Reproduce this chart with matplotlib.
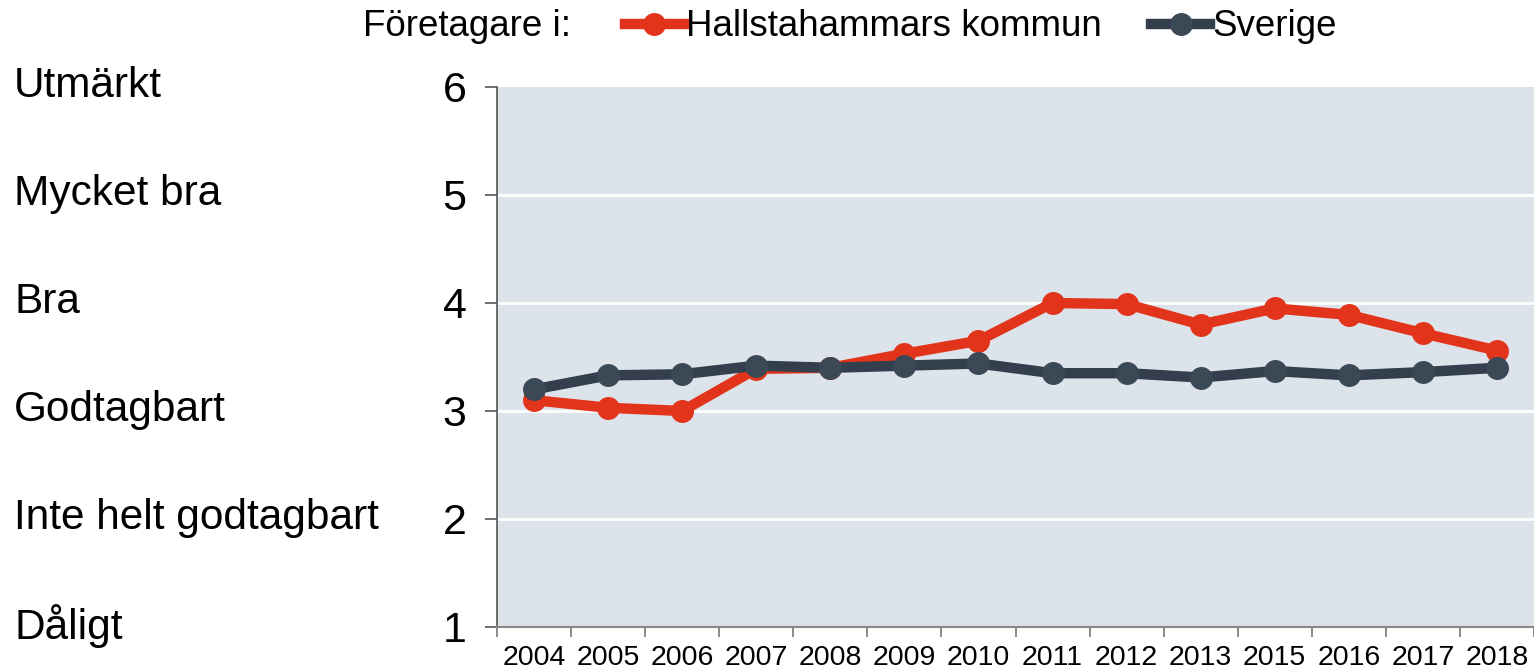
import numpy as np
import matplotlib
matplotlib.use("Agg")
import matplotlib.pyplot as plt
import matplotlib.transforms as mtransforms

plt.rcParams['font.family'] = ['Liberation Sans', 'DejaVu Sans']

# data
years = ['2004', '2005', '2006', '2007', '2008', '2009', '2010',
         '2011', '2012', '2013', '2015', '2016', '2017', '2018']
hallstahammar = [3.10, 3.03, 3.00, 3.39, 3.40, 3.53, 3.65,
                 4.00, 3.99, 3.80, 3.95, 3.89, 3.72, 3.56]
sverige = [3.20, 3.33, 3.34, 3.42, 3.40, 3.42, 3.44,
           3.35, 3.35, 3.31, 3.37, 3.33, 3.36, 3.40]
scale_labels = ['Dåligt', 'Inte helt godtagbart', 'Godtagbart',
                'Bra', 'Mycket bra', 'Utmärkt']
yticks = [1, 2, 3, 4, 5, 6]

red = '#e2341a'
dark = '#333f4c'
dark_marker = '#3b4956'

W, H = 1534, 671
fig = plt.figure(figsize=(W / 100, H / 100), dpi=100)
ax = fig.add_axes([497 / W, 1 - 627 / H, (W - 497) / W, (627 - 87) / H])
ax.set_facecolor('#dde3ea')

x = np.arange(len(years))
l1, = ax.plot(x, hallstahammar, color=red, lw=7.5, marker='o', ms=15.5,
              mfc=red, mec=red, zorder=3, label='Hallstahammars kommun')
l2, = ax.plot(x, sverige, color=dark, lw=7.5, marker='o', ms=15.5,
              mfc=dark_marker, mec=dark_marker, zorder=4, label='Sverige')

ax.set_xlim(-0.5, len(years) - 0.5)
ax.set_ylim(1, 6)
ax.set_yticks(yticks)
ax.set_yticklabels([str(v) for v in yticks], fontsize=31)
ax.tick_params(axis='y', length=9, width=1.2, color='#555555', pad=13)
for v in yticks[1:-1]:
    ax.axhline(v, color='white', lw=2, zorder=1)

# category ticks between years, labels in the middle
ax.set_xticks(np.arange(len(years) + 1) - 0.5)
ax.set_xticklabels([])
ax.set_xticks(x, minor=True)
ax.set_xticklabels(years, minor=True, fontsize=20.5)
ax.tick_params(axis='x', which='major', length=7, width=1.2, color='#777777')
ax.tick_params(axis='x', which='minor', length=0, pad=13)

for s in ['top', 'right']:
    ax.spines[s].set_visible(False)
ax.spines['left'].set_color('#555555')
ax.spines['left'].set_linewidth(1.2)
ax.spines['bottom'].set_color('#888888')
ax.spines['bottom'].set_linewidth(1.5)

# verbal scale at the far left
trans = mtransforms.blended_transform_factory(fig.transFigure, ax.transData)
for v, lab in zip(yticks, scale_labels):
    ax.text(14 / W, v + 0.01, lab, transform=trans, fontsize=30.5,
            ha='left', va='center', clip_on=False)

fig.text(363 / W, 1 - 27 / H, 'Företagare i:', fontsize=26.5,
         ha='left', va='center')
fig.legend(handles=[l1, l2], loc='center left',
           bbox_to_anchor=(625 / W, 1 - 27 / H), ncol=2, frameon=False,
           fontsize=26.5, handlelength=1.6, handletextpad=0.05,
           columnspacing=1.35, borderpad=0, borderaxespad=0, markerscale=1.0)

fig.savefig('out.png', dpi=100)
